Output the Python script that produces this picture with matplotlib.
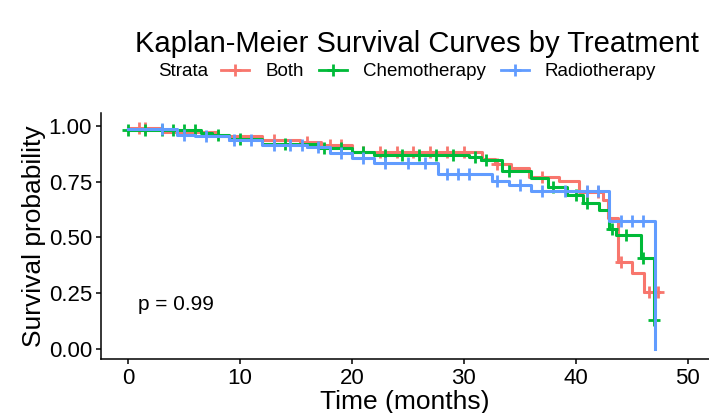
import numpy as np
import matplotlib.pyplot as plt
from matplotlib.lines import Line2D

plt.rcParams['font.family'] = ['Liberation Sans', 'DejaVu Sans']

# data (Kaplan-Meier steps)
groups = ["Both", "Chemotherapy", "Radiotherapy"]
colors = ["#F8766D", "#00BA38", "#619CFF"]

both_t = [0, 3, 8, 12, 15.4, 17.2, 20, 31.6, 32.8, 34.2, 35.8, 38.5, 40.3, 42.4, 42.9, 43.8, 45, 46.1]
both_s = [0.99, 0.975, 0.955, 0.935, 0.93, 0.915, 0.885, 0.85, 0.83, 0.81, 0.77, 0.755, 0.705, 0.67, 0.586, 0.39, 0.34, 0.257]
both_end = 47.4
both_cens = [1, 1.5, 13, 16, 18, 19, 21, 22.5, 24, 25.5, 27, 28.5, 30, 33, 37, 41, 42, 44, 46.5, 47.3]

chemo_t = [0, 6.5, 7.5, 9, 12, 17, 20, 22, 30.5, 31.5, 33.4, 36, 37.5, 39.2, 40.6, 42.1, 43, 43.6, 45.8, 47]
chemo_s = [0.98, 0.97, 0.96, 0.94, 0.92, 0.90, 0.885, 0.87, 0.86, 0.845, 0.80, 0.766, 0.728, 0.69, 0.655, 0.623, 0.54, 0.51, 0.41, 0.13]
chemo_end = 47
chemo_cens = [0, 1.5, 3, 4, 5, 6, 8, 10, 14, 17.5, 19, 21, 23, 24.5, 26, 27.5, 29, 31, 32, 34, 38, 40, 41, 43.2, 44.5, 46, 47]

radio_t = [0, 4.4, 6, 9, 12, 16, 18, 20, 22, 27.7, 32.5, 34, 36, 43, 47.1]
radio_s = [0.985, 0.96, 0.955, 0.935, 0.915, 0.905, 0.88, 0.856, 0.834, 0.785, 0.755, 0.735, 0.71, 0.575, 0.0]
radio_end = 47.1
radio_cens = [3, 5, 7, 9.5, 11, 13, 14.5, 15.5, 17, 19, 21, 23, 25, 26.5, 28.5, 29.5, 30.5, 33, 35, 37, 39, 41, 42, 44, 45, 46]

curves = [
    (both_t, both_s, both_end, both_cens),
    (chemo_t, chemo_s, chemo_end, chemo_cens),
    (radio_t, radio_s, radio_end, radio_cens),
]

fig = plt.figure(figsize=(7.09, 4.13), dpi=100)
ax = fig.add_axes([0.1425, 0.1308, 0.8575, 0.5956])

for (t, s, end, cens), col in zip(curves, colors):
    t = np.array(t)
    s = np.array(s)
    ax.step(np.append(t, end), np.append(s, s[-1]), where='post', color=col, lw=2.2)
    idx = np.searchsorted(t, cens, side='right') - 1
    ax.plot(cens, s[idx], ls='none', marker='+', ms=9, mew=2, color=col)

ax.set_xlim(-2.41, 51.9)
ax.set_ylim(-0.045, 1.058)
ax.set_xticks([0, 10, 20, 30, 40, 50])
ax.set_yticks([0, 0.25, 0.5, 0.75, 1.0])
ax.set_yticklabels(["0.00", "0.25", "0.50", "0.75", "1.00"])
ax.spines['top'].set_visible(False)
ax.spines['right'].set_visible(False)
for sp in ['left', 'bottom']:
    ax.spines[sp].set_linewidth(1.1)
ax.tick_params(labelsize=16, length=3.5, width=1.1, pad=3)

ax.set_xlabel("Time (months)", fontsize=19, labelpad=1)
ax.set_ylabel("Survival probability", fontsize=19, labelpad=2)

ax.text(0.9, 0.2, "p = 0.99", fontsize=15, va='center', ha='left')

fig.text(0.588, 0.894, "Kaplan-Meier Survival Curves by Treatment",
         fontsize=21, ha='center', va='center')

# legend
fig.text(158 / 709, 0.826, "Strata", fontsize=13.5, ha='left', va='center')
handles = [Line2D([], [], color=c, lw=2, marker='+', ms=9, mew=2) for c in colors]
fig.legend(handles, groups, loc='center left', bbox_to_anchor=(221 / 709, 0.826),
           ncol=3, frameon=False, fontsize=13.5, handlelength=1.5,
           handletextpad=0.85, columnspacing=0.8, borderpad=0, borderaxespad=0)

fig.savefig("out.png", dpi=100)
